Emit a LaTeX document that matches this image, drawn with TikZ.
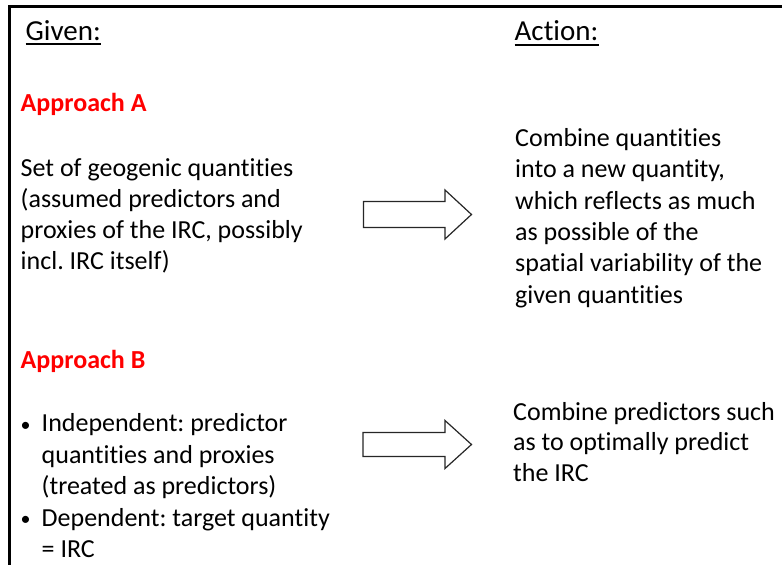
\documentclass[tikz,border=0pt]{standalone}
\usepackage{fontspec}
\setmainfont[Ligatures={NoCommon}]{Carlito}
\definecolor{apred}{RGB}{255,0,0}
\newcommand\bul{\makebox[21pt][l]{\fontsize{20}{20}\selectfont\raisebox{0.5pt}{•}}}
\begin{document}
\frenchspacing
\begin{tikzpicture}[x=1pt,y=-1pt,
  body/.style={anchor=base west,inner sep=0pt,font=\fontsize{26}{31.3}\selectfont},
  bodyB/.style={anchor=base west,inner sep=0pt,font=\fontsize{26}{31.5}\selectfont},
  bodyC/.style={anchor=base west,inner sep=0pt,font=\fontsize{26}{30.8}\selectfont},
  head/.style={anchor=base west,inner sep=0pt,font=\fontsize{29}{34}\selectfont},
  appr/.style={anchor=base west,inner sep=0pt,font=\fontsize{26}{31}\selectfont\bfseries,text=apred},
  ul/.style={line width=1.3pt},
  blockarrow/.style={draw=black!85,line width=1.2pt,fill=white,line join=miter},
  frame/.style={line width=3pt,line join=miter}]
\useasboundingbox (0,0) rectangle (782,565);
\draw[frame] (9.5,566) -- (9.5,6.5) -- (783,6.5);

\node[head] (given) at (25.5,40.5) {Given:};
\node[head] (action) at (514.5,40.5) {Action:};
\draw[ul] ([yshift=-3.5pt]given.base west) -- ([yshift=-3.5pt]given.base east);
\draw[ul] ([yshift=-4.5pt]action.base west) -- ([yshift=-4.5pt]action.base east);

\node[appr] (apprA) at (20.5,111.5) {Approach A};
\node[appr] (apprB) at (20.5,368.5) {Approach B};

\node[body] (givenA) at (20.5,176) {\begin{tabular}[t]{@{}l@{}}Set of geogenic quantities\\(assumed predictors and\\proxies of the IRC, possibly\\incl. IRC itself)\end{tabular}};

\node[body] (actionA) at (515,146.5) {\begin{tabular}[t]{@{}l@{}}Combine quantities\\into a new quantity,\\which reflects as much\\as possible of the\\spatial variability of the\\given quantities\end{tabular}};

\node[bodyB] (givenB) at (20.5,431.5) {\begin{tabular}[t]{@{}l@{}}\bul Independent: predictor\\\hspace{21pt}quantities and proxies\\\hspace{21pt}(treated as predictors)\\\bul Dependent: target quantity\\\hspace{21pt}= IRC\end{tabular}};

\node[bodyC] (actionB) at (513,420) {\begin{tabular}[t]{@{}l@{}}Combine predictors such\\as to optimally predict\\the IRC\end{tabular}};

\draw[blockarrow] (363.5,201.5) -- (445,201.5) -- (445,190) -- (471.5,214.5) -- (445,239) -- (445,227.5) -- (363.5,227.5) -- cycle;
\draw[blockarrow] (363,432.5) -- (445,432.5) -- (445,420.5) -- (471.5,444.5) -- (445,468.5) -- (445,456.5) -- (363,456.5) -- cycle;
\end{tikzpicture}
\end{document}
